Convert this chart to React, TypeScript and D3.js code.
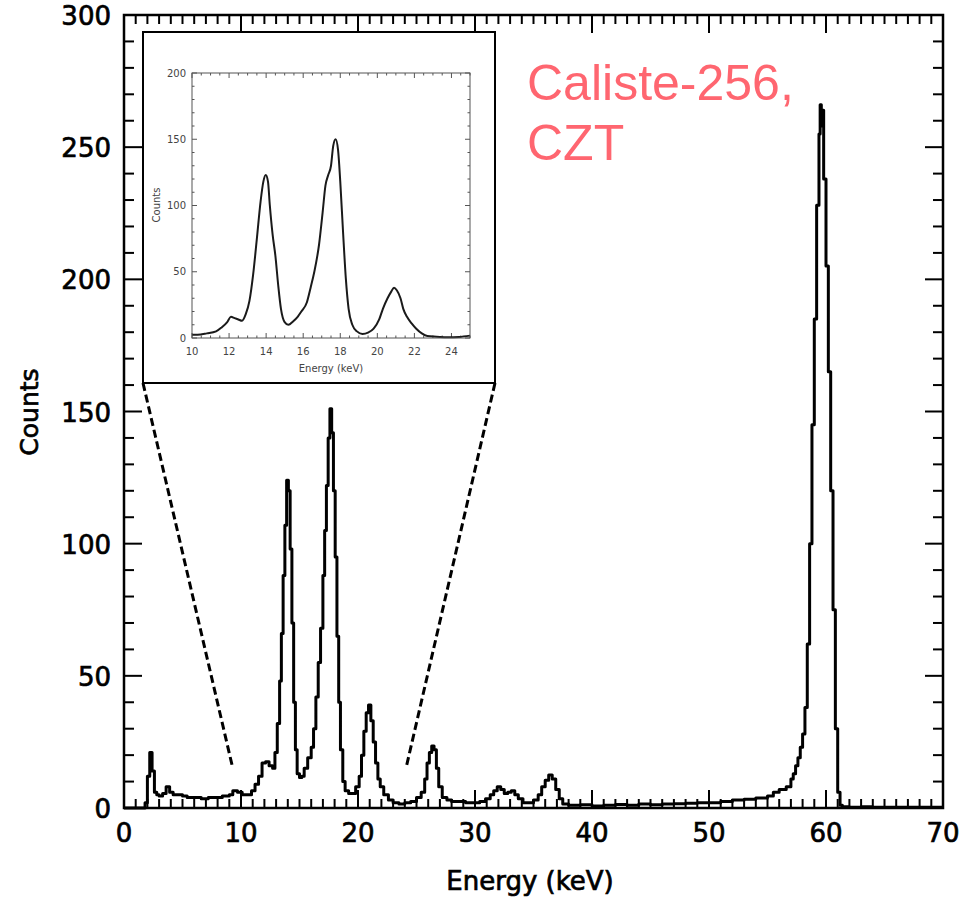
import React, { useEffect, useRef } from 'react';
import * as d3 from 'd3';

// main spectrum: bin start energies (keV) and counts
const energy = [
  0, 1.8, 2.0, 2.2, 2.4, 2.6, 2.8, 3.0, 3.3, 3.6, 3.9, 4.2, 4.6, 5.0, 5.4, 6.0, 6.6, 7.2, 7.8, 8.4,
  9.0, 9.3, 9.7, 10.1, 10.5, 10.9, 11.2, 11.5, 11.8, 12.1, 12.4, 12.7, 12.9, 13.1, 13.3, 13.45, 13.6, 13.75, 13.9, 14.05,
  14.2, 14.35, 14.5, 14.65, 14.8, 15.0, 15.2, 15.4, 15.7, 16.0, 16.2, 16.4, 16.6, 16.8, 17.0, 17.15, 17.3, 17.45, 17.6, 17.75,
  17.9, 18.05, 18.2, 18.35, 18.5, 18.7, 18.9, 19.2, 19.5, 19.8, 20.1, 20.3, 20.5, 20.7, 20.9, 21.1, 21.3, 21.5, 21.7, 21.9,
  22.2, 22.6, 23.0, 23.5, 24.0, 24.5, 25.0, 25.4, 25.7, 25.9, 26.1, 26.3, 26.5, 26.7, 26.9, 27.2, 27.6, 28.0, 28.6, 29.2,
  29.8, 30.4, 30.9, 31.3, 31.6, 31.9, 32.2, 32.5, 32.8, 33.1, 33.4, 33.7, 34.1, 34.6, 35.0, 35.4, 35.7, 36.0, 36.3, 36.6,
  36.9, 37.2, 37.5, 38.0, 39.0, 40.0, 41.0, 42.0, 43.0, 44.0, 45.0, 46.0, 47.0, 48.0, 49.0, 50.0, 51.0, 52.0, 53.0, 54.0,
  55.0, 55.5, 56.0, 56.6, 57.0, 57.2, 57.4, 57.6, 57.8, 58.0, 58.2, 58.4, 58.6, 58.8, 59.0, 59.2, 59.4, 59.5, 59.6, 59.7,
  59.8, 60.0, 60.2, 60.4, 60.6, 60.8, 61.0, 61.2, 61.4, 62.0, 63.0, 64.0, 65.0, 66.0, 67.0, 68.0, 69.0, 70.0,
];
const counts = [
  0, 2, 12, 21, 14, 6, 5, 4.5, 5.5, 8, 6, 5, 5, 4.5, 4, 4, 3.5, 4, 4, 4.5,
  5, 6.5, 6, 5, 5, 6.5, 9, 12, 17, 17.5, 16, 15, 21, 32, 48, 66, 88, 107, 124, 120,
  98, 70, 40, 22, 13, 11.5, 12, 15, 19, 23, 30, 42, 55, 68, 88, 105, 122, 140, 151, 142,
  120, 95, 65, 40, 22, 10, 6.5, 5.5, 5.5, 8, 12, 20, 29, 36, 39, 33, 25, 17, 11, 8,
  5, 3, 2, 1.5, 2, 2.5, 4, 6, 11, 17, 21, 23.5, 22, 15, 8, 4, 3, 2.5, 2.5, 2,
  2, 2.5, 3.5, 5, 6.5, 8, 7, 5.5, 6, 6.5, 5, 3.5, 2, 2, 3, 5, 8, 10.5, 12.5, 11,
  7, 3.5, 1.5, 1, 1.2, 0.8, 1, 1.3, 1, 1.5, 1.2, 1.5, 1.6, 1.8, 2, 2, 2.5, 3, 3.3, 3.8,
  4.5, 6, 7, 8, 11, 13, 16, 19, 23, 28, 38, 62, 100, 145, 185, 228, 255, 266, 258, 264,
  238, 205, 165, 120, 75, 30, 6, 1, 0.5, 0.3, 0.5, 0.3, 0.3, 0.3, 0.3, 0.3, 0.3, 0.3,
];

// inset (zoom 10-25 keV), smooth curve
const insetEnergy = [
  10.0, 10.3, 10.8, 11.3, 11.6, 11.9, 12.1, 12.3, 12.5, 12.7, 12.9, 13.1, 13.3, 13.5, 13.7, 13.85, 13.98, 14.1, 14.2, 14.35,
  14.5, 14.65, 14.8, 15.0, 15.2, 15.45, 15.7, 15.9, 16.2, 16.4, 16.6, 16.85, 17.05, 17.2, 17.35, 17.5, 17.62, 17.75, 17.88, 18.0,
  18.15, 18.3, 18.45, 18.65, 18.9, 19.2, 19.5, 19.8, 20.1, 20.3, 20.55, 20.75, 20.9, 21.05, 21.25, 21.4, 21.6, 21.85, 22.1, 22.4,
  22.7, 23.2, 23.8, 24.4, 25.0,
];
const insetCounts = [
  2.5, 2.5, 3.5, 5, 8, 12, 16, 15, 14, 13, 18, 28, 48, 75, 103, 118, 123, 118, 100, 78,
  62, 40, 22, 12, 10, 12.5, 16, 20, 27, 38, 50, 70, 95, 115, 123, 130, 145, 150, 142, 118,
  80, 45, 22, 10, 5, 3, 4, 7, 14, 22, 30, 35, 38, 36, 30, 22, 16, 11, 7, 3.5,
  1.5, 1, 0.5, 0.8, 1.8,
];

const xTicks = [0, 10, 20, 30, 40, 50, 60, 70];
const yTicks = [0, 50, 100, 150, 200, 250, 300];
const insetXTicks = [10, 12, 14, 16, 18, 20, 22, 24];
const insetYTicks = [0, 50, 100, 150, 200];
const zoomFrom = [9.3, 24.1]; // where the dashed lines land
const zoomLevel = 15;

const App = () => {
  const ref = useRef(null);

  useEffect(() => {
    const svg = d3.select(ref.current);
    svg.selectAll('*').remove();

    const x = d3.scaleLinear().domain([0, 70]).range([124, 943]);
    const y = d3.scaleLinear().domain([0, 300]).range([808, 15]);
    const font = 'DejaVu Sans, sans-serif';

    const g = svg.append('g');

    // ticks, all pointing inwards on the 4 sides
    const minorX = d3.range(0, 71, 1);
    const minorY = d3.range(0, 301, 10);
    minorX.forEach((v) => {
      const len = v % 10 === 0 ? 18 : 9;
      g.append('line').attr('x1', x(v)).attr('x2', x(v)).attr('y1', y(0)).attr('y2', y(0) - len).attr('stroke', '#000').attr('stroke-width', 2);
      g.append('line').attr('x1', x(v)).attr('x2', x(v)).attr('y1', y(300)).attr('y2', y(300) + len).attr('stroke', '#000').attr('stroke-width', 2);
    });
    minorY.forEach((v) => {
      const len = v % 50 === 0 ? 18 : 10;
      g.append('line').attr('x1', x(0)).attr('x2', x(0) + len).attr('y1', y(v)).attr('y2', y(v)).attr('stroke', '#000').attr('stroke-width', 2);
      g.append('line').attr('x1', x(70)).attr('x2', x(70) - len).attr('y1', y(v)).attr('y2', y(v)).attr('stroke', '#000').attr('stroke-width', 2);
    });

    // spectrum
    const pts = energy.map((e, i) => [e, counts[i]]);
    const line = d3.line()
      .x((d) => x(d[0]))
      .y((d) => y(d[1]))
      .curve(d3.curveStepAfter);
    g.append('path')
      .datum(pts)
      .attr('d', line)
      .attr('fill', 'none')
      .attr('stroke', '#000')
      .attr('stroke-width', 3)
      .attr('stroke-linejoin', 'round');

    // frame
    g.append('rect')
      .attr('x', x(0)).attr('y', y(300))
      .attr('width', x(70) - x(0)).attr('height', y(0) - y(300))
      .attr('fill', 'none').attr('stroke', '#000').attr('stroke-width', 2.5);

    // tick labels (slightly heavier strokes, like the original plot font)
    const heavy = (sel) => sel
      .attr('font-family', font).attr('font-size', 26)
      .attr('stroke', '#000').attr('stroke-width', 0.7);
    g.selectAll('.xl').data(xTicks).enter().append('text')
      .attr('x', (d) => x(d)).attr('y', 842)
      .attr('text-anchor', 'middle')
      .call(heavy)
      .text((d) => d);
    g.selectAll('.yl').data(yTicks).enter().append('text')
      .attr('x', 111).attr('y', (d) => y(d) + 10)
      .attr('text-anchor', 'end')
      .call(heavy)
      .text((d) => d);
    g.append('text')
      .attr('x', 530).attr('y', 890)
      .attr('text-anchor', 'middle')
      .call(heavy)
      .text('Energy (keV)');
    g.append('text')
      .attr('transform', 'translate(38,412) rotate(-90)')
      .attr('text-anchor', 'middle')
      .call(heavy)
      .attr('font-size', 25)
      .text('Counts');

    // inset box
    const box = { x0: 143, y0: 32, x1: 495, y1: 383 };

    // dashed zoom lines
    g.append('line')
      .attr('x1', box.x0).attr('y1', box.y1)
      .attr('x2', x(zoomFrom[0])).attr('y2', y(zoomLevel))
      .attr('stroke', '#000').attr('stroke-width', 3).attr('stroke-dasharray', '8,4');
    g.append('line')
      .attr('x1', box.x1).attr('y1', box.y1)
      .attr('x2', x(zoomFrom[1])).attr('y2', y(zoomLevel))
      .attr('stroke', '#000').attr('stroke-width', 3).attr('stroke-dasharray', '8,4');

    g.append('rect')
      .attr('x', box.x0).attr('y', box.y0)
      .attr('width', box.x1 - box.x0).attr('height', box.y1 - box.y0)
      .attr('fill', '#fff').attr('stroke', '#000').attr('stroke-width', 2);

    const ix = d3.scaleLinear().domain([10, 25]).range([192, 470]);
    const iy = d3.scaleLinear().domain([0, 200]).range([338, 73]);
    const ig = g.append('g');
    const grey = '#555';

    d3.range(10, 25.01, 0.5).forEach((v) => {
      const len = v % 2 === 0 ? 5 : 2.5;
      ig.append('line').attr('x1', ix(v)).attr('x2', ix(v)).attr('y1', iy(0)).attr('y2', iy(0) - len).attr('stroke', grey).attr('stroke-width', 1);
      ig.append('line').attr('x1', ix(v)).attr('x2', ix(v)).attr('y1', iy(200)).attr('y2', iy(200) + len).attr('stroke', grey).attr('stroke-width', 1);
    });
    d3.range(0, 201, 10).forEach((v) => {
      const len = v % 50 === 0 ? 5 : 2.5;
      ig.append('line').attr('x1', ix(10)).attr('x2', ix(10) + len).attr('y1', iy(v)).attr('y2', iy(v)).attr('stroke', grey).attr('stroke-width', 1);
      ig.append('line').attr('x1', ix(25)).attr('x2', ix(25) - len).attr('y1', iy(v)).attr('y2', iy(v)).attr('stroke', grey).attr('stroke-width', 1);
    });

    const ipts = insetEnergy.map((e, i) => [e, insetCounts[i]]);
    ig.append('path')
      .datum(ipts)
      .attr('d', d3.line().x((d) => ix(d[0])).y((d) => iy(d[1])).curve(d3.curveMonotoneX))
      .attr('fill', 'none')
      .attr('stroke', '#1a1a1a')
      .attr('stroke-width', 2);

    ig.append('rect')
      .attr('x', ix(10)).attr('y', iy(200))
      .attr('width', ix(25) - ix(10)).attr('height', iy(0) - iy(200))
      .attr('fill', 'none').attr('stroke', grey).attr('stroke-width', 1);

    ig.selectAll('.ixl').data(insetXTicks).enter().append('text')
      .attr('x', (d) => ix(d)).attr('y', 355)
      .attr('text-anchor', 'middle')
      .attr('font-family', font).attr('font-size', 10).attr('fill', '#444')
      .text((d) => d);
    ig.selectAll('.iyl').data(insetYTicks).enter().append('text')
      .attr('x', 186).attr('y', (d) => iy(d) + 3.5)
      .attr('text-anchor', 'end')
      .attr('font-family', font).attr('font-size', 10).attr('fill', '#444')
      .text((d) => d);
    ig.append('text')
      .attr('x', 331).attr('y', 372)
      .attr('text-anchor', 'middle')
      .attr('font-family', font).attr('font-size', 10).attr('fill', '#444')
      .text('Energy (keV)');
    ig.append('text')
      .attr('transform', 'translate(160,205) rotate(-90)')
      .attr('text-anchor', 'middle')
      .attr('font-family', font).attr('font-size', 10).attr('fill', '#444')
      .text('Counts');

    // annotation
    const note = g.append('text')
      .attr('font-family', 'Liberation Sans, Arial, sans-serif')
      .attr('font-size', 50)
      .attr('fill', '#ff6670');
    note.append('tspan').attr('x', 527).attr('y', 100).text('Caliste-256,');
    note.append('tspan').attr('x', 527).attr('y', 160).text('CZT');
  }, []);

  return (
    <svg
      ref={ref}
      width={975}
      height={902}
      style={{ position: 'absolute', left: 0, top: 0, background: '#fff' }}
    />
  );
};

export default App;
